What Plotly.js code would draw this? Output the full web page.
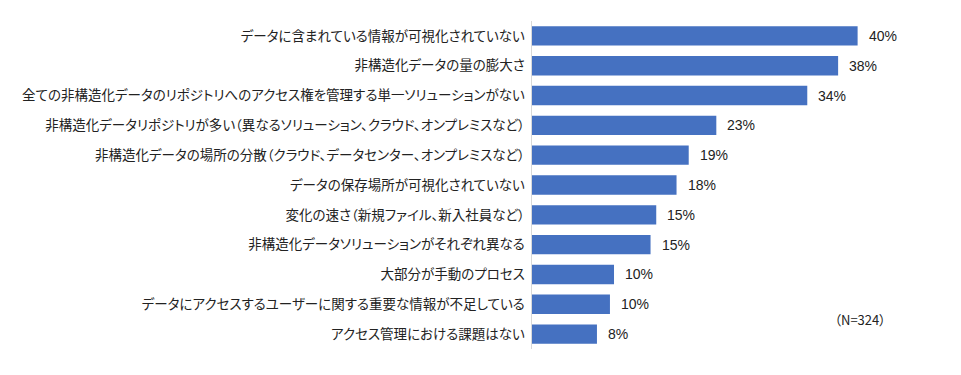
<!DOCTYPE html>
<html>
<head>
<meta charset="utf-8">
<script src="https://cdn.plot.ly/plotly-3.0.1.min.js"></script>
<style>
html,body{margin:0;padding:0;background:#fff;}
#chart{width:961px;height:375px;}
#chart .ytick text, #chart .annotation-text { font-feature-settings: "palt" 1; }
</style>
</head>
<body>
<div id="chart"></div>
<script>
const categories = [
  "データに含まれている情報が可視化されていない",
  "非構造化データの量の膨大さ",
  "全ての非構造化データのリポジトリへのアクセス権を管理する単一ソリューションがない",
  "非構造化データリポジトリが多い（異なるソリューション、クラウド、オンプレミスなど）",
  "非構造化データの場所の分散（クラウド、データセンター、オンプレミスなど）",
  "データの保存場所が可視化されていない",
  "変化の速さ（新規ファイル、新入社員など）",
  "非構造化データソリューションがそれぞれ異なる",
  "大部分が手動のプロセス",
  "データにアクセスするユーザーに関する重要な情報が不足している",
  "アクセス管理における課題はない"
];
const values = [40.1, 37.7, 33.9, 22.7, 19.3, 17.8, 15.3, 14.6, 10.1, 9.6, 8.0];
const valueLabels = ["40%", "38%", "34%", "23%", "19%", "18%", "15%", "15%", "10%", "10%", "8%"];
const sampleNote = "（N=324）";

const cjk = "'Noto Sans CJK JP', 'Noto Sans', sans-serif";
const latin = "'Liberation Sans', Arial, sans-serif";

const trace = {
  type: "bar",
  orientation: "h",
  x: values,
  y: categories,
  marker: { color: "#4571c1", line: { width: 0 } },
  hoverinfo: "skip"
};

const annotations = values.map((v, i) => ({
  x: v, y: categories[i], xref: "x", yref: "y",
  text: valueLabels[i], showarrow: false,
  xanchor: "left", xshift: 9,
  font: { family: latin, size: 14, color: "#222222" }
}));
annotations.push({
  x: 0.808, y: 0.09, xref: "paper", yref: "paper",
  text: sampleNote, showarrow: false, xanchor: "center", yanchor: "middle",
  font: { family: cjk, size: 13, color: "#222222" }
});

const layout = {
  width: 961, height: 375,
  margin: { l: 532, r: 23, t: 21, b: 26, pad: 0 },
  paper_bgcolor: "#ffffff", plot_bgcolor: "#ffffff",
  showlegend: false,
  bargap: 0.35,
  xaxis: { range: [0, 50], showticklabels: false, showgrid: false, zeroline: false, showline: false, fixedrange: true },
  yaxis: {
    type: "category", autorange: "reversed", automargin: false,
    showline: true, linecolor: "#d9d9d9", linewidth: 1.5,
    ticks: "", showgrid: false, zeroline: false,
    ticklabelstandoff: 3,
    tickfont: { family: cjk, size: 13.5, color: "#222222" }
  },
  annotations: annotations
};

Plotly.newPlot("chart", [trace], layout, { staticPlot: true, displayModeBar: false });
</script>
</body>
</html>
